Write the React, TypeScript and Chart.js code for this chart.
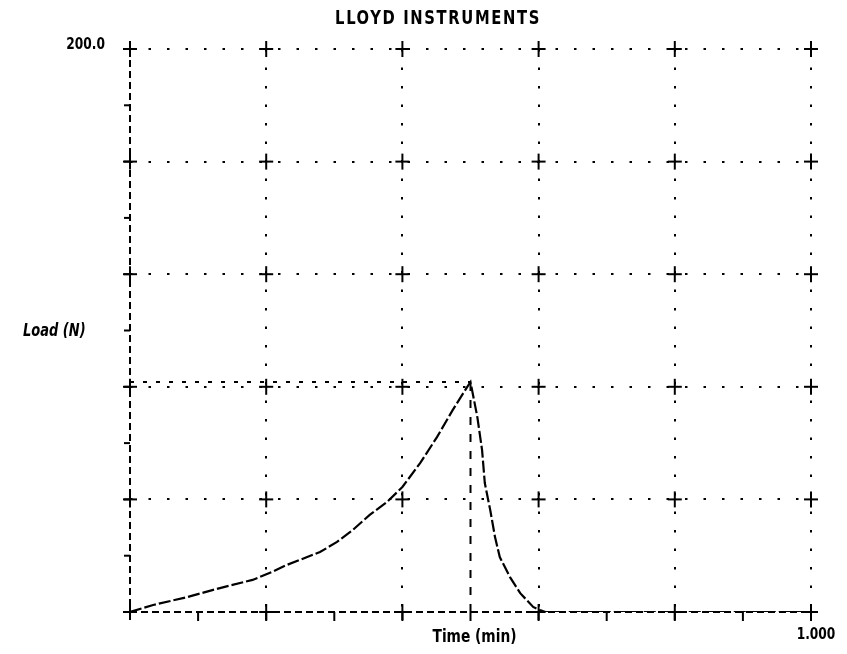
import { useEffect, useRef } from 'react';
import { Chart, registerables } from 'chart.js';

Chart.register(...registerables);

const TITLE = 'LLOYD INSTRUMENTS';
const X_TITLE = 'Time (min)';
const Y_TITLE = 'Load (N)';
const Y_MAX_LABEL = '200.0';
const X_MAX_LABEL = '1.000';

const X_MIN = 0;
const X_MAX = 1;
const X_STEP = 0.2;
const X_MINOR = 0.1;
const Y_MIN = 0;
const Y_MAX = 200;
const Y_STEP = 40;
const Y_MINOR = 20;

const TIME = [0, 0.034, 0.084, 0.132, 0.18, 0.208, 0.23, 0.279, 0.304, 0.327, 0.352, 0.377, 0.4, 0.426, 0.451, 0.474, 0.495, 0.5, 0.51, 0.517, 0.521, 0.529, 0.536, 0.543, 0.558, 0.573, 0.592, 0.602, 0.61, 0.8, 1.0];
const LOAD = [0, 2.5, 5.3, 8.5, 11.4, 14.2, 16.7, 21.3, 24.9, 29.1, 34.5, 39, 44.4, 52.9, 62.2, 71.8, 79.9, 81.7, 69.3, 57.5, 45.8, 36.2, 26.6, 19.5, 12.4, 6.7, 1.8, 0.7, 0, 0, 0];

const PEAK_TIME = 0.5;
const PEAK_LOAD = 81.7;

const FONT = '"Liberation Sans Narrow", "DejaVu Sans Condensed", "DejaVu Sans", Arial, sans-serif';

const drawNarrow = (ctx: any, text: string, cx: number, cy: number, font: string, sx: number, align: string, spacing: string) => {
  ctx.save();
  ctx.font = font;
  try { ctx.letterSpacing = spacing; } catch (e) {}
  ctx.textAlign = align;
  ctx.textBaseline = 'middle';
  ctx.translate(cx, cy);
  ctx.scale(sx, 1);
  ctx.fillText(text, 0, 0);
  ctx.restore();
};

const deco = {
  id: 'deco',
  beforeDatasetsDraw(chart: any) {
    const { ctx, scales } = chart;
    const x = scales.x;
    const y = scales.y;
    const L = x.getPixelForValue(X_MIN);
    const R = x.getPixelForValue(X_MAX);
    const T = y.getPixelForValue(Y_MAX);
    const B = y.getPixelForValue(Y_MIN);
    const line = (a: number, b: number, c: number, d: number) => {
      ctx.beginPath();
      ctx.moveTo(a, b);
      ctx.lineTo(c, d);
      ctx.stroke();
    };
    ctx.save();
    ctx.strokeStyle = '#000';
    ctx.lineWidth = 2;
    ctx.setLineDash([7, 4]);
    line(L, T, L, B);
    line(L, B, R, B);
    ctx.setLineDash([]);
    const nx = Math.round((X_MAX - X_MIN) / X_STEP);
    const ny = Math.round((Y_MAX - Y_MIN) / Y_STEP);
    for (let i = 0; i <= nx; i++) {
      for (let j = 0; j <= ny; j++) {
        const px = x.getPixelForValue(X_MIN + i * X_STEP);
        const py = y.getPixelForValue(Y_MIN + j * Y_STEP);
        line(px - 7, py, px + 7, py);
        line(px, py - 8, px, py + 8);
      }
    }
    const mx = Math.round((X_MAX - X_MIN) / X_MINOR);
    for (let i = 1; i <= mx; i++) {
      const px = x.getPixelForValue(X_MIN + i * X_MINOR);
      line(px, B, px, B + 9);
    }
    const my = Math.round((Y_MAX - Y_MIN) / Y_MINOR);
    for (let j = 1; j <= my; j++) {
      const py = y.getPixelForValue(Y_MIN + j * Y_MINOR);
      line(L - 6, py, L, py);
    }
    ctx.restore();
  },
  afterDraw(chart: any) {
    const { ctx, scales } = chart;
    const x = scales.x;
    const y = scales.y;
    const L = x.getPixelForValue(X_MIN);
    const R = x.getPixelForValue(X_MAX);
    const T = y.getPixelForValue(Y_MAX);
    const B = y.getPixelForValue(Y_MIN);
    ctx.fillStyle = '#000';
    drawNarrow(ctx, TITLE, 438, 19, `bold 20px ${FONT}`, 0.82, 'center', '2px');
    drawNarrow(ctx, Y_MAX_LABEL, L - 25, T - 4, `bold 16px ${FONT}`, 0.85, 'right', '0px');
    drawNarrow(ctx, Y_TITLE, 23, (T + B) / 2 + 1, `bold italic 17px ${FONT}`, 0.85, 'left', '0px');
    drawNarrow(ctx, X_TITLE, (L + R) / 2 + 4, B + 26, `bold 17px ${FONT}`, 0.9, 'center', '0px');
    drawNarrow(ctx, X_MAX_LABEL, R + 5, B + 23, `bold 16px ${FONT}`, 0.85, 'center', '0px');
  },
};

export default function App() {
  const ref = useRef<HTMLCanvasElement | null>(null);
  useEffect(() => {
    document.body.style.margin = '0';
    const canvas = ref.current;
    if (!canvas) return;
    const curve = TIME.map((t, i) => ({ x: t, y: LOAD[i] }));
    const chart = new Chart(canvas, {
      type: 'scatter',
      data: {
        datasets: [
          {
            data: curve,
            showLine: true,
            borderColor: '#000',
            borderWidth: 2.2,
            borderDash: [12, 3],
            pointRadius: 0,
            tension: 0,
          },
          {
            data: [{ x: X_MIN, y: PEAK_LOAD }, { x: PEAK_TIME, y: PEAK_LOAD }],
            showLine: true,
            borderColor: '#000',
            borderWidth: 2,
            borderDash: [4, 9],
            pointRadius: 0,
          },
          {
            data: [{ x: PEAK_TIME, y: Y_MIN }, { x: PEAK_TIME, y: PEAK_LOAD }],
            showLine: true,
            borderColor: '#000',
            borderWidth: 2,
            borderDash: [8, 9],
            pointRadius: 0,
          },
        ],
      },
      options: {
        responsive: false,
        animation: false,
        layout: { padding: { left: 130, right: 36, top: 49, bottom: 42 } },
        plugins: { legend: { display: false }, tooltip: { enabled: false }, title: { display: false } },
        scales: {
          x: {
            type: 'linear',
            min: X_MIN,
            max: X_MAX,
            ticks: { display: false, stepSize: X_STEP },
            grid: {
              drawTicks: false,
              lineWidth: 2,
              color: (c: any) => (c.index === 0 ? 'rgba(0,0,0,0)' : '#000'),
            },
            border: { display: false, dash: [2.5, 16] },
          },
          y: {
            type: 'linear',
            min: Y_MIN,
            max: Y_MAX,
            ticks: { display: false, stepSize: Y_STEP },
            grid: {
              drawTicks: false,
              lineWidth: 2,
              color: (c: any) => (c.index === 0 ? 'rgba(0,0,0,0)' : '#000'),
            },
            border: { display: false, dash: [2.5, 16] },
          },
        },
      },
      plugins: [deco],
    });
    return () => chart.destroy();
  }, []);
  return (
    <div style={{ position: 'fixed', left: 0, top: 0, width: 847, height: 654, background: '#fff' }}>
      <canvas ref={ref} width={847} height={654} style={{ display: 'block' }} />
    </div>
  );
}
